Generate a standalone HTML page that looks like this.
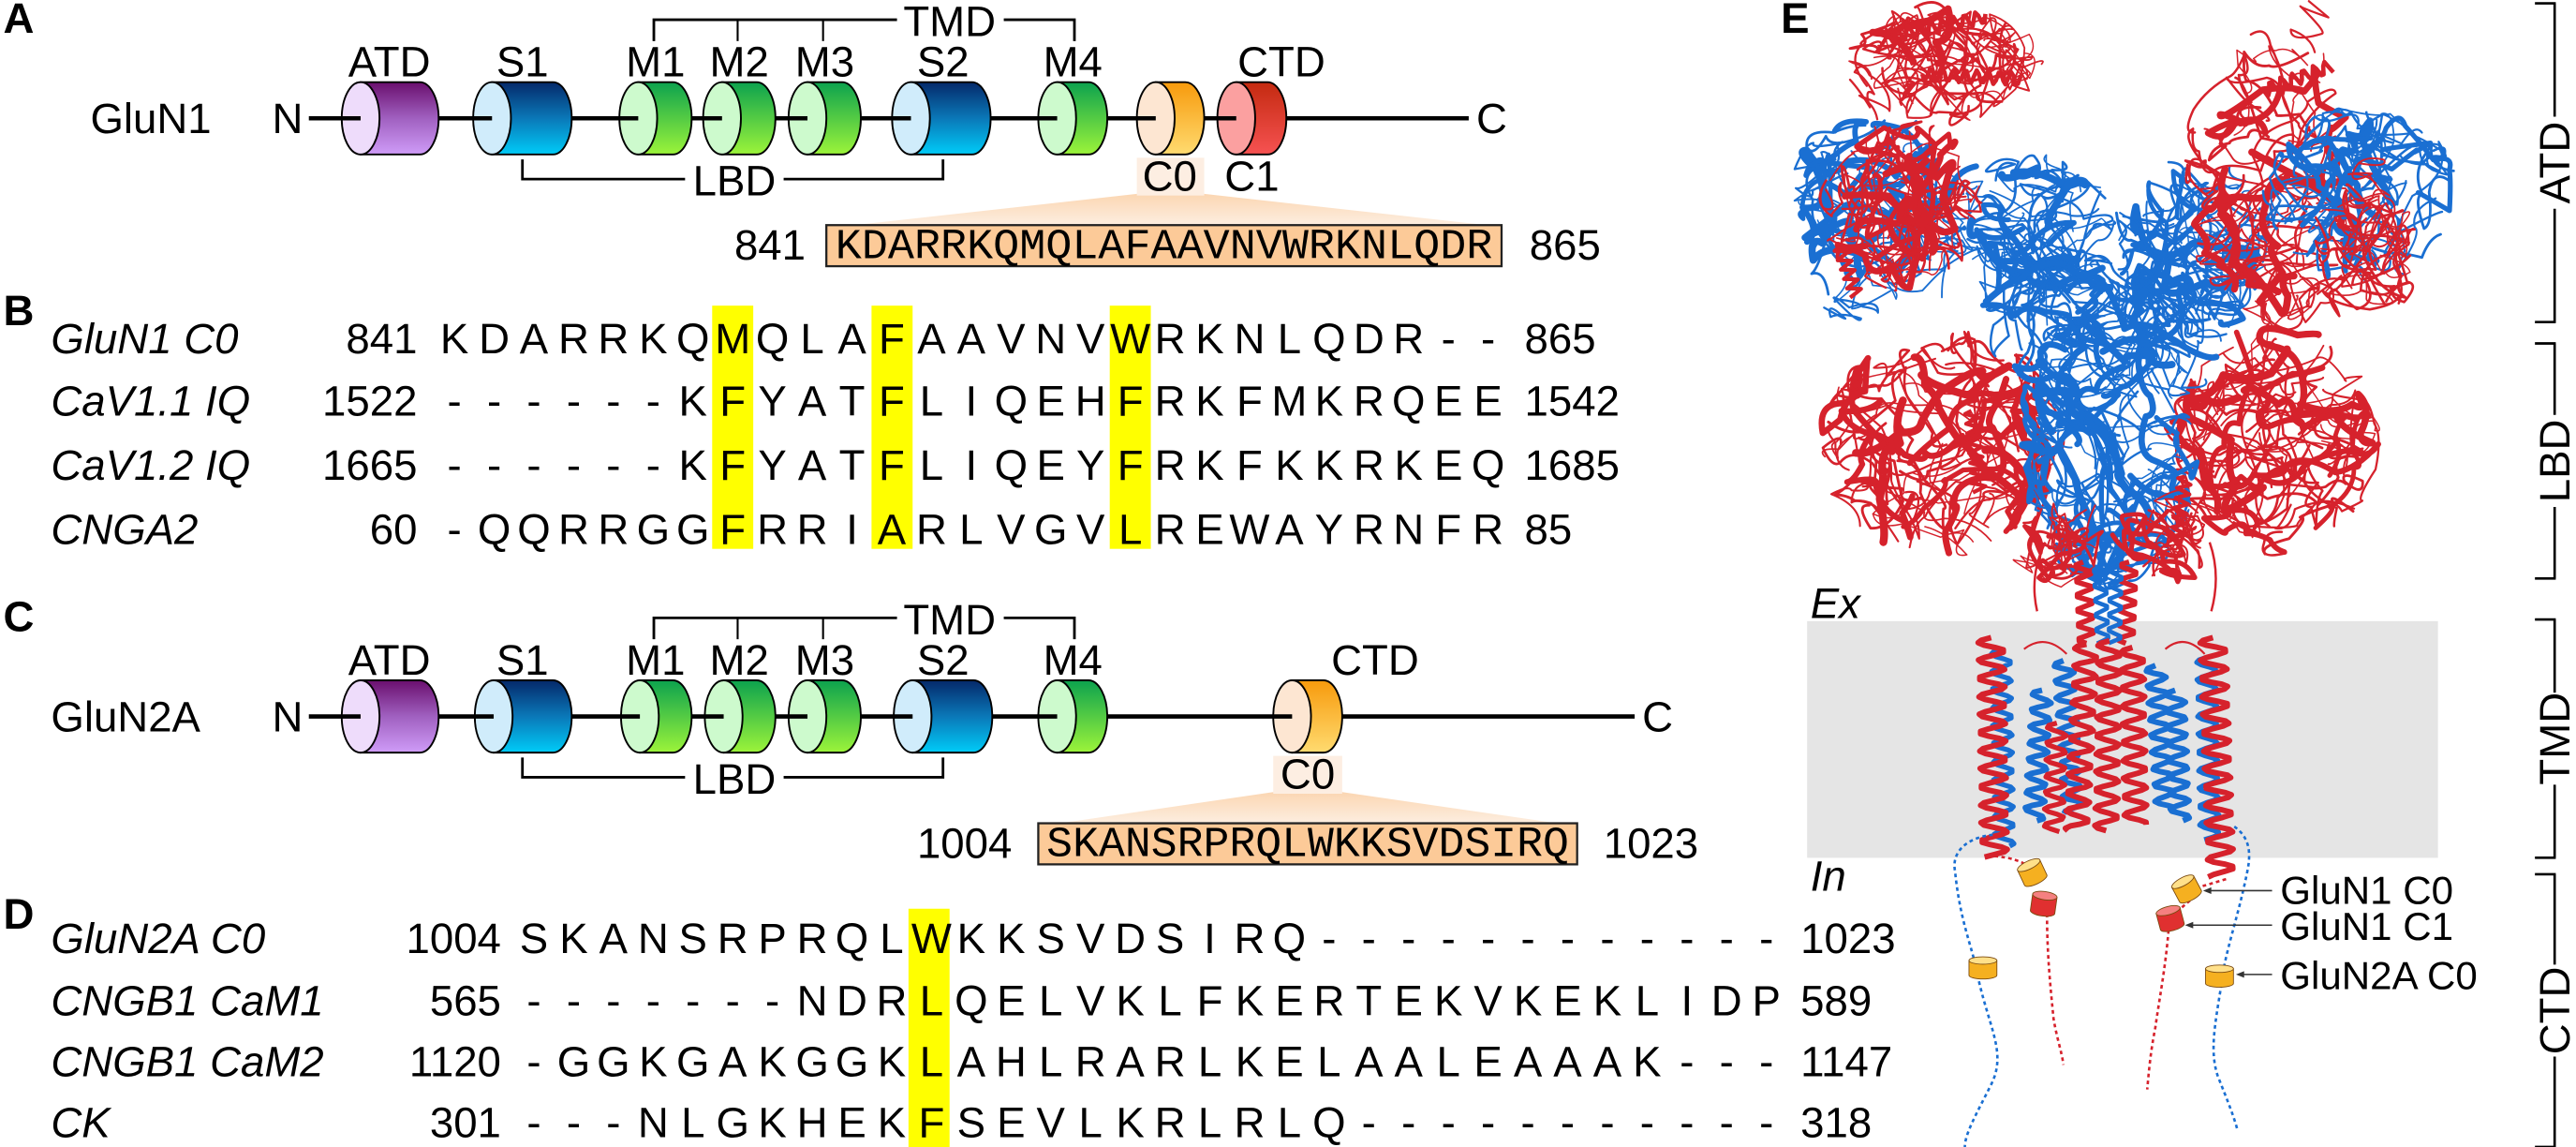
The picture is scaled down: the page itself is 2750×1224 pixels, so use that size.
<!DOCTYPE html>
<html><head><meta charset="utf-8">
<style>
html,body{margin:0;padding:0;background:#fff;}
svg{display:block;}
text{font-family:"Liberation Sans",Arial,sans-serif;fill:#000;}
.mono{font-family:"Liberation Mono","Courier New",monospace;}
</style></head>
<body>
<svg id="s" xmlns="http://www.w3.org/2000/svg" width="2750" height="1224" viewBox="0 0 1568 698" preserveAspectRatio="none">
<defs>
<linearGradient id="gP" x1="0" y1="0" x2="0" y2="1"><stop offset="0" stop-color="#6a0f6e"/><stop offset="0.5" stop-color="#a060c0"/><stop offset="1" stop-color="#cf9cf8"/></linearGradient>
<linearGradient id="gB" x1="0" y1="0" x2="0" y2="1"><stop offset="0" stop-color="#05296a"/><stop offset="0.5" stop-color="#0a78b8"/><stop offset="1" stop-color="#00ccf8"/></linearGradient>
<linearGradient id="gG" x1="0" y1="0" x2="0" y2="1"><stop offset="0" stop-color="#0ca24e"/><stop offset="1" stop-color="#9cf43a"/></linearGradient>
<linearGradient id="gO" x1="0" y1="0" x2="0" y2="1"><stop offset="0" stop-color="#f79a0c"/><stop offset="1" stop-color="#ffdb70"/></linearGradient>
<linearGradient id="gR" x1="0" y1="0" x2="0" y2="1"><stop offset="0" stop-color="#c42a10"/><stop offset="1" stop-color="#f65252"/></linearGradient>
<linearGradient id="gW" x1="0" y1="0" x2="0" y2="1"><stop offset="0" stop-color="#fbd6b2"/><stop offset="1" stop-color="#fdeee0"/></linearGradient>
</defs>
<g id="main"></g>
</svg>
<script>
(function(){
var NS="http://www.w3.org/2000/svg", g=document.getElementById("main");
function el(tag,attrs,txt){var e=document.createElementNS(NS,tag);for(var k in attrs)e.setAttribute(k,attrs[k]);if(txt!=null)e.textContent=txt;g.appendChild(e);return e;}
function T(x,y,s,o){o=o||{};var a={x:x,y:y,"font-size":o.fs||26};if(o.a)a["text-anchor"]=o.a;if(o.it)a["font-style"]="italic";if(o.b)a["font-weight"]="bold";if(o.cls)a["class"]=o.cls;if(o.tl){a.textLength=o.tl;a.lengthAdjust="spacingAndGlyphs";}return el("text",a,s);}
var faces={P:"#eedcfb",B:"#d0ecfb",G:"#cdfacd",O:"#fde6d2",R:"#fba0a0"};
function cyl(x0,x1,cy,t){var rx=11.5,ry=22,top=cy-ry,bot=cy+ry;
 el("path",{d:"M"+(x0+rx)+","+top+" L"+(x1-rx)+","+top+" A"+rx+","+ry+" 0 0 1 "+(x1-rx)+","+bot+" L"+(x0+rx)+","+bot+" Z",fill:"url(#g"+t+")",stroke:"#000","stroke-width":1.1});
 el("ellipse",{cx:x0+rx,cy:cy,rx:rx,ry:ry,fill:faces[t],stroke:"#000","stroke-width":1.1});}
function ln(x1,y1,x2,y2,w,c){el("line",{x1:x1,y1:y1,x2:x2,y2:y2,stroke:c||"#000","stroke-width":w||1.5});}
function path(d,w,c,extra){var a={d:d,fill:"none",stroke:c||"#000","stroke-width":w||1.5};for(var k in extra)a[k]=extra[k];return el("path",a);}

function domainRow(dy,name,nameX,cyls,lineEnd,cX){
 var cy=72+dy;
 T(nameX,cy+9,name);
 T(175,cy+9,"N",{a:"middle"});
 for(var i=0;i<cyls.length;i++){cyl(cyls[i][0],cyls[i][1],cy,cyls[i][2]);}
 var prev=188;
 for(var i=0;i<cyls.length;i++){ln(prev,cy,cyls[i][0]+11.5,cy,2.6);prev=cyls[i][1];}
 ln(prev,cy,lineEnd,cy,2.6);
 T(cX,cy+9,"C",{a:"middle"});
 var labs=[["ATD",237],["S1",318],["M1",399],["M2",450],["M3",502],["S2",574],["M4",653]];
 for(var i=0;i<labs.length;i++)T(labs[i][1],46.5+dy,labs[i][0],{a:"middle"});
 path("M398,"+(25+dy)+" V"+(12+dy)+" H546",1.6);
 path("M611,"+(12+dy)+" H654 V"+(25+dy),1.6);
 ln(449,12+dy,449,25+dy,1.2);ln(501,12+dy,501,25+dy,1.2);
 T(578,22+dy,"TMD",{a:"middle"});
 path("M318,"+(97+dy)+" V"+(109+dy)+" H417",1.6);
 path("M477,"+(109+dy)+" H574 V"+(97+dy),1.6);
 T(447,119+dy,"LBD",{a:"middle"});
}
el("path",{d:"M692,118 L733,118 L905,137 L520,137 Z",fill:"url(#gW)"});
el("rect",{x:692,y:96,width:41,height:23,fill:"#fdeee2"});
el("path",{d:"M775,482 L817,482 L948,501 L645,501 Z",fill:"url(#gW)"});
el("rect",{x:775,y:460,width:42,height:23,fill:"#fdeee2"});

T(2,20,"A",{b:1});
domainRow(0,"GluN1",55,[[208,267,"P"],[288,348,"B"],[377,421,"G"],[428,472,"G"],[480,524,"G"],[543,603,"B"],[632,674,"G"],[692,733,"O"],[741,783,"R"]],894,908);
T(780,46.5,"CTD",{a:"middle"});
T(712,116,"C0",{a:"middle"});T(762,116,"C1",{a:"middle"});
el("rect",{x:503,y:137,width:411,height:25,fill:"#fcca98",stroke:"#222","stroke-width":1.3});
T(708.5,157,"KDARRKQMQLAFAAVNVWRKNLQDR",{a:"middle",cls:"mono",fs:26,tl:400});
T(447,158,"841",{fs:26});T(931,158,"865",{fs:26});

T(2,384,"C",{b:1});
domainRow(364,"GluN2A",31,[[208,267,"P"],[289,348,"B"],[378,421,"G"],[429,472,"G"],[480,524,"G"],[544,604,"B"],[632,674,"G"],[775,817,"O"]],995,1009);
T(837,410.5,"CTD",{a:"middle"});
T(796,480,"C0",{a:"middle"});
el("rect",{x:632,y:501,width:328,height:25,fill:"#fcca98",stroke:"#222","stroke-width":1.3});
T(796,521,"SKANSRPRQLWKKSVDSIRQ",{a:"middle",cls:"mono",fs:26,tl:318});
T(616,522,"1004",{fs:26,a:"end"});T(976,522,"1023",{fs:26});

T(2,198,"B",{b:1});
var p=24.2;
[446,543,688].forEach(function(c){el("rect",{x:c-12.5,y:186,width:25,height:148,fill:"#ffff00"});});
var B=[["GluN1 C0","841","KDARRKQMQLAFAAVNVWRKNLQDR--","865",215],
["CaV1.1 IQ","1522","------KFYATFLIQEHFRKFMKRQEE","1542",253],
["CaV1.2 IQ","1665","------KFYATFLIQEYFRKFKKRKEQ","1685",292],
["CNGA2","60","-QQRRGGFRRIARLVGVLREWAYRNFR","85",331]];
B.forEach(function(r){T(31,r[4],r[0],{it:1});T(254,r[4],r[1],{a:"end"});
 for(var i=0;i<r[2].length;i++)T(276.6+i*p,r[4],r[2][i],{a:"middle"});
 T(928,r[4],r[3]);});
T(2,565,"D",{b:1});
el("rect",{x:553,y:553,width:25,height:145,fill:"#ffff00"});
var D=[["GluN2A C0","1004","SKANSRPRQLWKKSVDSIRQ------------","1023",580],
["CNGB1 CaM1","565","-------NDRLQELVKLFKERTEKVKEKLIDP","589",618],
["CNGB1 CaM2","1120","-GGKGAKGGKLAHLRARLKELAALEAAAK---","1147",655],
["CK","301","---NLGKHEKFSEVLKRLRLQ-----------","318",692]];
D.forEach(function(r){T(31,r[4],r[0],{it:1});T(305,r[4],r[1],{a:"end"});
 for(var i=0;i<r[2].length;i++)T(325+i*p,r[4],r[2][i],{a:"middle"});
 T(1096,r[4],r[3]);});

T(1084,20,"E",{b:1});
el("rect",{x:1100,y:378,width:384,height:144,fill:"#e5e5e5"});
T(1102,376,"Ex",{it:1});T(1102,542,"In",{it:1});

var seed=12345;function rnd(){seed|=0;seed=seed+0x6D2B79F5|0;var t=Math.imul(seed^seed>>>15,1|seed);t=t+Math.imul(t^t>>>7,61|t)^t;return((t^t>>>14)>>>0)/4294967296;}
var RED="#d6222c",BLU="#1a6fd2";
function blob(cx,cy,rx,ry,col,n,wmax){
 for(var i=0;i<n;i++){var a=rnd()*6.283,r=Math.sqrt(rnd());var x=cx+Math.cos(a)*r*rx,y=cy+Math.sin(a)*r*ry;
  var d="M"+x.toFixed(1)+","+y.toFixed(1);var steps=4+Math.floor(rnd()*5);var ang=rnd()*6.283;
  for(var k=0;k<steps;k++){ang+=(rnd()-0.5)*2.2;var L=10+rnd()*22;var nx=x+Math.cos(ang)*L,ny=y+Math.sin(ang)*L;
   var dx=(nx-cx)/rx,dy=(ny-cy)/ry;if(dx*dx+dy*dy>1.05){ang+=3.14;nx=x+Math.cos(ang)*L*0.7;ny=y+Math.sin(ang)*L*0.7;}
   var qx=(x+nx)/2+(rnd()-0.5)*22,qy=(y+ny)/2+(rnd()-0.5)*22;
   d+=" Q"+qx.toFixed(1)+","+qy.toFixed(1)+" "+nx.toFixed(1)+","+ny.toFixed(1);x=nx;y=ny;}
  var w=rnd()<0.22?(2.4+rnd()*(wmax-2.4)):(0.8+rnd()*0.9);
  path(d,w,col,{"stroke-linecap":"round","stroke-linejoin":"round"});}}
function coil(x0,y0,x1,y1,amp,per,col,w){var L=Math.hypot(x1-x0,y1-y0),ux=(x1-x0)/L,uy=(y1-y0)/L,d="";
 for(var s=0;s<=L;s+=1.5){var o=amp*Math.sin(s/per*6.283);var x=x0+ux*s-uy*o,y=y0+uy*s+ux*o;d+=(s==0?"M":"L")+x.toFixed(1)+","+y.toFixed(1);}
 path(d,w,col,{"stroke-linejoin":"round"});}
var regs=[
[1185,38,62,36,RED,30,4.5],[1148,130,62,60,BLU,32,4.5],[1158,125,50,52,RED,34,4.5],
[1243,150,46,56,BLU,34,4.5],[1333,150,48,56,BLU,34,4.5],
[1385,110,55,92,RED,40,4.5],[1435,120,60,54,BLU,32,4.5],[1440,150,32,48,RED,16,4.5],
[1182,270,74,68,RED,50,5],[1383,268,64,70,RED,48,5],
[1284,265,55,90,BLU,58,5],[1284,200,82,42,BLU,22,4.5],[1255,330,30,25,RED,10,3],[1315,330,30,25,RED,10,3]];
regs.forEach(function(r){blob(r[0],r[1],r[2],r[3],r[4],r[5],r[6]);});
coil(1150,22,1210,10,4,7,RED,2.6);coil(1170,45,1230,48,4,7,RED,2.6);coil(1378,55,1420,40,4,7,RED,2.6);
coil(1200,250,1205,300,4,6,RED,2.4);coil(1330,290,1325,330,4,6,RED,2.4);coil(1120,150,1130,180,4,6,RED,2.4);
coil(1268,342,1270,392,5,9,RED,3.2);coil(1296,342,1294,392,5,9,RED,3.2);
coil(1278,345,1280,392,4,9,BLU,2.6);coil(1288,345,1287,392,4,9,BLU,2.6);
path("M1245,330 Q1235,350 1240,372",1.4,RED);path("M1345,330 Q1352,350 1346,372",1.4,RED);
coil(1218,395,1220,515,6,11,BLU,3);coil(1212,388,1214,522,8,11,RED,3.4);
coil(1243,420,1238,500,6,10,BLU,3.4);coil(1256,402,1262,495,6,10,BLU,3.4);
coil(1312,405,1318,492,6,10,BLU,3.4);coil(1324,420,1327,500,6,10,BLU,3.4);
coil(1270,392,1264,506,7,11,RED,3.4);coil(1284,390,1282,506,7,11,RED,3.4);
coil(1298,394,1300,502,7,11,RED,3.4);coil(1252,440,1250,506,6,10,RED,3);
coil(1343,400,1345,512,6,11,BLU,3);coil(1347,388,1352,534,8,11,RED,3.4);
path("M1232,395 Q1245,385 1258,398",1.2,RED);path("M1318,395 Q1330,385 1342,398",1.2,RED);
var dash={"stroke-dasharray":"2.2,2","stroke-linecap":"butt"};
path("M1213,508 C1195,510 1188,520 1190,530 C1193,560 1200,575 1203,590 C1210,625 1222,640 1212,660 C1203,678 1196,690 1196,698",1.5,BLU,dash);
path("M1360,503 C1370,510 1370,520 1368,530 C1362,560 1354,580 1352,600 C1348,625 1345,640 1350,655 C1356,670 1360,680 1362,688",1.5,BLU,dash);
path("M1214,521 Q1228,522 1236,528",1.5,RED,dash);
path("M1246,556 C1246,580 1248,600 1250,620 C1252,632 1255,640 1256,648",1.5,RED,dash);
path("M1355,535 Q1345,538 1338,540",1.5,RED,dash);
path("M1333,548 L1326,554",1.5,RED,dash);
path("M1320,566 C1318,590 1314,610 1312,625 C1309,640 1308,652 1307,663",1.5,RED,dash);
function scyl(cx,cy,w,h,rot,top,body){var gg=document.createElementNS(NS,"g");gg.setAttribute("transform","translate("+cx+","+cy+") rotate("+rot+")");g.appendChild(gg);
 var b=document.createElementNS(NS,"path");b.setAttribute("d","M"+(-w/2)+","+(-h/2)+" L"+(-w/2)+","+(h/2)+" A"+(w/2)+","+(h/4)+" 0 0 0 "+(w/2)+","+(h/2)+" L"+(w/2)+","+(-h/2)+" Z");b.setAttribute("fill",body);b.setAttribute("stroke","#7a4a10");b.setAttribute("stroke-width","0.5");gg.appendChild(b);
 var e=document.createElementNS(NS,"ellipse");e.setAttribute("cx",0);e.setAttribute("cy",-h/2);e.setAttribute("rx",w/2);e.setAttribute("ry",h/4);e.setAttribute("fill",top);e.setAttribute("stroke","#7a4a10");e.setAttribute("stroke-width","0.5");gg.appendChild(e);}
scyl(1237,531,15,10,-25,"#ffe08a","#f5b020");scyl(1244,550,15,10,8,"#f58080","#e03030");
scyl(1331,541,15,10,-28,"#ffe08a","#f5b020");scyl(1321,559,15,10,-15,"#f58080","#e03030");
scyl(1207,589,17,9,0,"#ffe08a","#f5b020");scyl(1351,594,17,9,0,"#ffe08a","#f5b020");
function arrow(x1,y,x2){ln(x1,y,x2+4,y,0.9,"#333");el("path",{d:"M"+x2+","+y+" l5,-2 l0,4 Z",fill:"#333"});}
arrow(1383,542,1341);arrow(1383,563,1330);arrow(1383,593,1361);
T(1388,550,"GluN1 C0",{fs:24});T(1388,572,"GluN1 C1",{fs:24});T(1388,602,"GluN2A C0",{fs:24});
var segs=[["ATD",2,196],["LBD",209,352],["TMD",377,522],["CTD",532,698]];
segs.forEach(function(s){var c=(s[1]+s[2])/2,h=28;
 ln(1555,s[1],1555,c-h,1.5);ln(1555,c+h,1555,s[2],1.5);
 ln(1543,s[1],1555.7,s[1],1.5);ln(1543,s[2],1555.7,s[2],1.5);
 var t=T(0,0,s[0],{a:"middle",fs:26});t.setAttribute("transform","translate(1564,"+c+") rotate(-90)");});
})();
</script>
</body></html>
